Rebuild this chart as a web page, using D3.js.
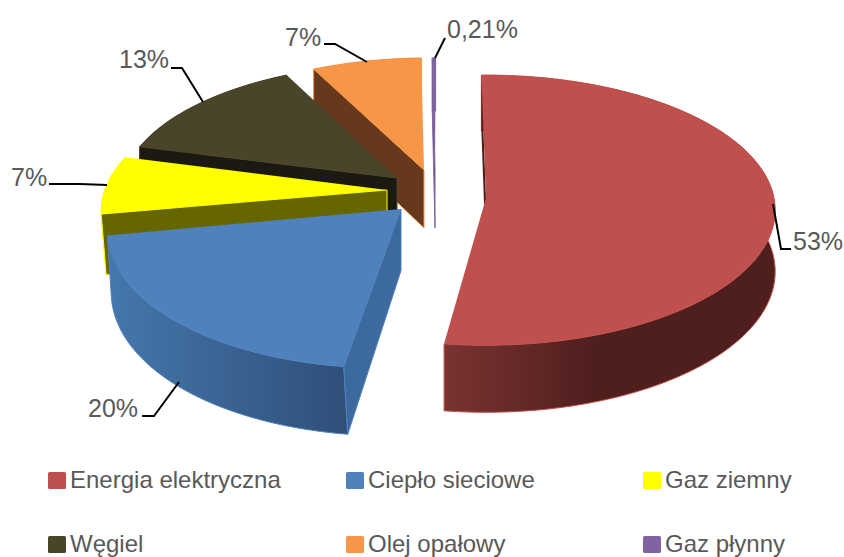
<!DOCTYPE html>
<html>
<head>
<meta charset="utf-8">
<script src="https://cdn.jsdelivr.net/npm/d3@7"></script>
<style>
  html, body { margin: 0; padding: 0; background: #fff; }
  text { font-family: "Liberation Sans", Arial, sans-serif; fill: #595959; }
</style>
</head>
<body>
<div id="chart"></div>
<script>
// data (shares are slightly off the printed labels, as drawn)
const categories = ["Energia elektryczna", "Ciepło sieciowe", "Gaz ziemny", "Węgiel", "Olej opałowy", "Gaz płynny"];
const shares = [52.4, 20, 7, 13.4, 7, 0.21];
const labels = ["53%", "20%", "7%", "13%", "7%", "0,21%"];

// styles
const topColors = ["#c0504d", "#4f81bd", "#ffff00", "#4a452a", "#f79646", "#8064a2"];
const wallColors = ["#4d1f1d", "#3d6a9e", "#666600", "#1c1a10", "#66391c", "#5b4776"];
const outerFrom = ["#7a3331", "#4577ad", "#ffff00", "#1c1a10", "#66391c", "#5b4776"];
const outerTo = ["#4f1f1e", "#2f4f78", "#ffff00", "#1c1a10", "#66391c", "#5b4776"];

// explosion of each slice: apex position, scale, y-scale, shear, sideways drift of the base
const explode = [
  { cx: 486, cy: 198, s: 1, sy: 1, skew: 0, drift: 0 },
  { cx: 401, cy: 209, s: 1.01, sy: 1.07, skew: -15, drift: 4 },
  { cx: 387, cy: 190, s: 0.98, sy: 1, skew: -20, drift: 5 },
  { cx: 397, cy: 178, s: 0.95, sy: 0.98, skew: -5, drift: 0 },
  { cx: 424, cy: 170, s: 0.95, sy: 0.96, skew: -5, drift: 0 },
  { cx: 435, cy: 170, s: 0.95, sy: 0.96, skew: -5, drift: 0 }
];

// label placement and leader lines
const labelPos = [[793, 250], [88, 417], [11, 186], [119, 68], [285, 46], [447, 38]];
const leaders = [
  [[791, 249], [781, 249], [773, 204]],
  [[142, 416], [154, 416], [179, 382]],
  [[49, 184], [80, 184], [107, 185]],
  [[171, 68], [182, 68], [203, 102]],
  [[324, 44], [335, 44], [367, 62]],
  [[445, 38], [435, 58]]
];
const legendX = [48, 346, 643];
const legendY = [472, 536];

const width = 844, height = 557;
const persp = 0.09, depth = 61;

const xScale = d3.scaleLinear().domain([-1, 1]).range([-288, 288]);
const yScale = d3.scaleLinear().domain([-1, 1]).range([-134, 134]);

const svg = d3.select("#chart").append("svg")
  .attr("width", width).attr("height", height)
  .style("display", "block");
const defs = svg.append("defs");

const pie = d3.pie().sort(null)
  .startAngle(-1 * Math.PI / 180)
  .endAngle(359 * Math.PI / 180);
const arcs = pie(shares);

function project(e, a, r, z) {
  const u = r * Math.sin(a), v = -r * Math.cos(a);
  const w = 1 - persp * v;
  return [
    e.cx + e.s * xScale(u) / w + e.skew * v + z * e.drift * r,
    e.cy + e.s * e.sy * yScale(v) / w + z * depth * e.s / w
  ];
}

function arcPoints(e, a0, a1, z) {
  const n = Math.max(2, Math.ceil((a1 - a0) / 0.02));
  return d3.range(n + 1).map(i => project(e, a0 + (a1 - a0) * i / n, 1, z));
}

const line = d3.line().curve(d3.curveLinear);
const closed = pts => line(pts) + "Z";

// back to front, so later slices cover the earlier ones
const order = [5, 4, 3, 2, 1, 0];

order.forEach(i => {
  const e = explode[i], a = arcs[i];
  const g = svg.append("g").attr("class", "slice");

  const grad = defs.append("linearGradient").attr("id", "outer" + i);
  grad.append("stop").attr("offset", "0%").attr("stop-color", outerFrom[i]);
  grad.append("stop").attr("offset", i === 0 ? "45%" : "100%").attr("stop-color", outerTo[i]);

  // outer rim
  const rim = arcPoints(e, a.startAngle, a.endAngle, 0)
    .concat(arcPoints(e, a.startAngle, a.endAngle, 1).reverse());
  g.append("path").attr("d", closed(rim))
    .attr("fill", `url(#outer${i})`)
    .attr("stroke", topColors[i]).attr("stroke-width", 1);

  // only the cut face at the start angle ever shows from this camera
  const t = a.startAngle;
  const face = [project(e, t, 0, 0), project(e, t, 1, 0), project(e, t, 1, 1), project(e, t, 0, 1)];
  g.append("path").attr("d", closed(face))
    .attr("fill", wallColors[i])
    .attr("stroke", topColors[i]).attr("stroke-width", i === 0 ? 0 : 1);

  // top
  const top = [project(e, 0, 0, 0)].concat(arcPoints(e, a.startAngle, a.endAngle, 0));
  g.append("path").attr("d", closed(top)).attr("fill", topColors[i]);
});

// leaders and labels
svg.append("g").selectAll("path").data(leaders).join("path")
  .attr("d", d => line(d))
  .attr("fill", "none").attr("stroke", "#000").attr("stroke-width", 2);

svg.append("g").selectAll("text").data(labels).join("text")
  .attr("x", (d, i) => labelPos[i][0])
  .attr("y", (d, i) => labelPos[i][1])
  .attr("font-size", 25)
  .text(d => d);

// legend, three columns by two rows
const legend = svg.append("g").selectAll("g").data(categories).join("g")
  .attr("transform", (d, i) => `translate(${legendX[i % 3]},${legendY[Math.floor(i / 3)]})`);
legend.append("rect")
  .attr("width", 18).attr("height", 17).attr("rx", 1.5)
  .attr("fill", (d, i) => topColors[i]);
legend.append("text")
  .attr("x", 22).attr("y", 16)
  .attr("font-size", 24)
  .text(d => d);
</script>
</body>
</html>
